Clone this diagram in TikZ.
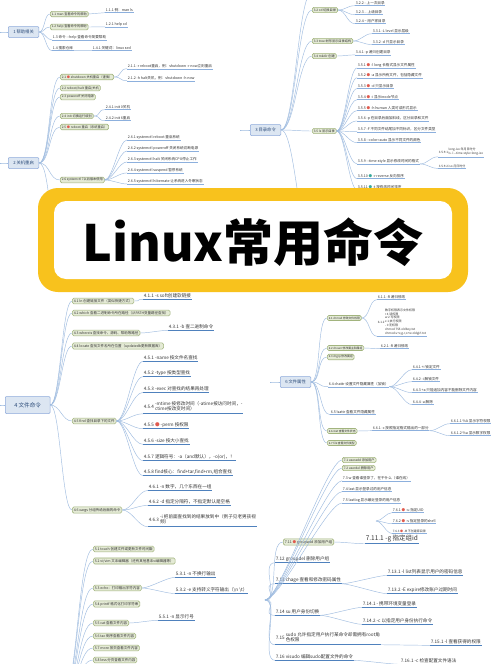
\documentclass[tikz,border=0pt]{standalone}
\usepackage{fontspec}
\setmainfont{Noto Sans CJK SC}[Ligatures=TeXOff]
\usetikzlibrary{positioning}

\definecolor{rootfill}{HTML}{DCE6F2}
\definecolor{rootdraw}{HTML}{8EAADB}
\definecolor{roottext}{HTML}{2A4A78}
\definecolor{subfill}{HTML}{E4EAD5}
\definecolor{subdraw}{HTML}{A2B47E}
\definecolor{brc}{HTML}{9FBCE0}
\definecolor{uline}{HTML}{8DB0DD}
\definecolor{ulinedark}{HTML}{4F81BD}
\definecolor{icored}{HTML}{E05A4E}
\definecolor{icoteal}{HTML}{35A89A}
\definecolor{bannery}{HTML}{F8C21D}

\newcommand\szroot{\fontsize{4.3}{5.2}\selectfont}
\newcommand\szrootl{\fontsize{5.6}{6.7}\selectfont}
\newcommand\szboxs{\fontsize{2.8}{3.4}\selectfont}
\newcommand\szbox{\fontsize{3.2}{3.8}\selectfont}
\newcommand\szboxl{\fontsize{3.5}{4.2}\selectfont}
\newcommand\szleaf{\fontsize{3.6}{4.3}\selectfont}
\newcommand\sztiny{\fontsize{3}{3.8}\selectfont}
\newcommand\szbig{\fontsize{4.6}{5.5}\selectfont}
\newcommand\szhuge{\fontsize{6.5}{7.8}\selectfont}
\newcommand\sztitle{\fontsize{50}{60}\selectfont}
\newcommand\ico[1]{{\color{#1}●}}

\begin{document}
\begin{tikzpicture}[x=1pt, y=-1pt,
  every node/.append style={text=black!80},
  root/.style={draw=rootdraw, fill=rootfill, text=roottext, rounded corners=1pt, line width=0.5pt,
    font=\szroot, inner xsep=5pt, minimum height=11pt, anchor=west},
  sub/.style={draw=subdraw, fill=subfill, rounded corners=1.5pt, line width=0.6pt,
    font=#1, inner xsep=1.5pt, inner ysep=1.2pt, anchor=west},
  sub/.default=\szbox,
  leaf/.style={font=\szleaf, inner xsep=0.6pt, inner ysep=0.8pt, anchor=west,
    append after command={(\tikzlastnode.south west) edge[draw=uline, line width=0.4pt] (\tikzlastnode.south east)}},
  bleaf/.style={font=\szbig, inner xsep=0.6pt, inner ysep=1pt, anchor=west,
    append after command={(\tikzlastnode.south west) edge[draw=ulinedark, line width=0.9pt] (\tikzlastnode.south east)}},
  br/.style={draw=brc, line width=0.45pt, out=0, in=180, distance=#1},
  br/.default=8pt]

\useasboundingbox (0,0) rectangle (500,664);
\fill[white] (0,0) rectangle (500,664);
\clip (0,0) rectangle (500,664);

%Free ends
\coordinate (in1) at (0,32);
\coordinate (in2) at (0,163);
\coordinate (in3) at (240,130);
\coordinate (in4) at (0,405);
\coordinate (in6) at (270,382);
\coordinate (h27) at (60,240);
\coordinate (h31) at (312,-8);
\coordinate (h36) at (312,240);
\coordinate (h5) at (62,700);
\coordinate (h7) at (265,600);
\coordinate (h76) at (376,521);

%Section 1
\node[root] (r1) at (8,32) {1 帮助相关};
\node[sub] (n11) at (50,14) {1.1 man 查看命令的帮助};
\node[leaf] (n111) at (105,10) {1.1.1 例：man ls};
\node[sub] (n12) at (50,27) {1.2 help 查看命令的帮助};
\node[leaf] (n121) at (105,24) {1.2.1 help cd};
\node[leaf] (n13) at (52,37) {1.3 命令 --help 查看命令简要帮助};
\node[leaf] (n14) at (52,48) {1.4 搜索仓库};
\node[leaf] (n141) at (92,48) {1.4.1 关键词：linux sed};

%Section 2
\node[root] (r2) at (8,163) {2 关机重启};
\node[sub] (n21) at (60,77) {2.1 \ico{icored} shutdown 关机重启（谨慎）};
\node[leaf] (n211) at (127,66) {2.1.1 -r reboot重启，例：shutdown -r now立刻重启};
\node[leaf] (n212) at (127,78) {2.1.2 -h halt关机，例：shutdown -h now};
\node[sub] (n22) at (60,88) {2.2 reboot/halt 重启/关机};
\node[sub] (n23) at (60,97) {2.3 poweroff 关闭电源};
\node[sub] (n24) at (60,116) {2.4 init 切换运行级别};
\node[leaf] (n241) at (105,107) {2.4.1 init 0关机};
\node[leaf] (n242) at (105,118) {2.4.2 init 6重启};
\node[sub] (n25) at (60,127) {2.5 \ico{icored} reboot 重启（系统重启）};
\node[sub] (n26) at (60,180) {2.6 systemctl 7以后版本使用};
\node[leaf] (n261) at (127,137) {2.6.1 systemctl reboot 重启系统};
\node[leaf] (n262) at (127,148) {2.6.2 systemctl poweroff 关闭系统切断电源};
\node[leaf] (n263) at (127,159) {2.6.3 systemctl halt 关闭系统CPU停止工作};
\node[leaf] (n264) at (127,170) {2.6.4 systemctl suspend 暂停系统};
\node[leaf] (n265) at (127,181) {2.6.5 systemctl hibernate 让系统进入冬眠状态};

%Section 3
\node[root] (r3) at (250,130) {3 目录命令};
\node[sub] (n32) at (312,10) {3.2 cd 切换目录};
\node[leaf] (n322) at (355,3) {3.2.2 - 上一次目录};
\node[leaf] (n323) at (355,12) {3.2.3 .. 上级目录};
\node[leaf] (n324) at (355,21) {3.2.4 \textasciitilde{} 用户家目录};
\node[sub] (n33) at (312,41) {3.3 tree 树形显示目录结构};
\node[leaf] (n331) at (372,31) {3.3.1 -L level 显示层级};
\node[leaf] (n332) at (372,42) {3.3.2 -d 只显示目录};
\node[sub] (n34) at (312,56) {3.4 mkdir 创建};
\node[leaf] (n341) at (355,52) {3.4.1 -p 递归创建目录};
\node[sub] (n35) at (312,131) {3.5 ls 显示目录};
\node[leaf] (n351) at (357,65) {3.5.1 \ico{icored} -l long 长格式显示文件属性};
\node[leaf] (n352) at (357,75) {3.5.2 \ico{icored} -a 显示所有文件，包括隐藏文件};
\node[leaf] (n353) at (357,86) {3.5.3 \ico{icored} -d 只显示目录};
\node[leaf] (n354) at (357,97) {3.5.4 \ico{icored} -i 显示inode节点};
\node[leaf] (n355) at (357,108) {3.5.5 \ico{icored} -h human 人类可读形式显示};
\node[leaf] (n356) at (357,118) {3.5.6 -p 在目录后面加斜线，区分目录和文件};
\node[leaf] (n357) at (357,129) {3.5.7 -F 不同文件结尾加不同标识，区分文件类型};
\node[leaf] (n358) at (357,140) {3.5.8 --color=auto 显示不同文件的颜色};
\node[leaf] (n359) at (357,161) {3.5.9 --time-style 显示修改时间的格式};
\node[leaf, font=\sztiny] (n3591) at (438,152) {3.5.9.1 \begin{tabular}[c]{@{}l@{}}long-iso 年月日时分\\ls -l --time-style=long-iso\end{tabular}};
\node[leaf, font=\sztiny] (n3592) at (438,166) {3.5.9.2 iso 月日时分};
\node[leaf] (n3510) at (357,176) {3.5.10 \ico{icoteal} -r reverse 反向排序};
\node[leaf] (n3511) at (357,187) {3.5.11 \ico{icoteal} -t 按修改时间排序};

%Section 4
\node[root, font=\szrootl, minimum height=17pt, inner xsep=9pt] (r4) at (5,405) {4 文件命令};
\node[sub=\szboxl] (n41) at (72,301) {4.1 ln 创建链接文件（类似快捷方式）};
\node[bleaf] (n411) at (143,296) {4.1.1 -s soft创建软链接};
\node[sub=\szboxl] (n42) at (72,313) {4.2 which 查看二进制命令所在路径（从PATH变量路径查找）};
\node[sub=\szboxl] (n43) at (72,333) {4.3 whereis 查找命令、源码、帮助等路径};
\node[bleaf] (n431) at (168,327) {4.3.1 -b 查二进制命令};
\node[sub=\szboxl] (n44) at (72,346) {4.4 locate 查找文件名所在位置（updatedb更新数据库）};
\node[sub=\szboxl] (n45) at (72,421) {4.5 find 查找目录下的文件};
\node[bleaf] (n451) at (143,358) {4.5.1 -name 按文件名查找};
\node[bleaf] (n452) at (143,373) {4.5.2 -type 按类型查找};
\node[bleaf] (n453) at (143,389) {4.5.3 -exec 对查找的结果再处理};
\node[bleaf] (n454) at (143,407) {4.5.4 \begin{tabular}[c]{@{}l@{}}-mtime 按修改时间（-atime按访问时间，-\\ctime按改变时间）\end{tabular}};
\node[bleaf] (n455) at (143,425) {4.5.5 \ico{icored} -perm 按权限};
\node[bleaf] (n456) at (143,441) {4.5.6 -size 按大小查找};
\node[bleaf] (n457) at (143,457) {4.5.7 逻辑符号：-a（and默认），-o(or)，！};
\node[bleaf] (n458) at (143,472) {4.5.8 find核心：find+tar,find+rm,组合查找};
\node[sub=\szboxl] (n46) at (72,510) {4.6 xargs 分组传给后面的命令};
\node[bleaf] (n461) at (148,487) {4.6.1 -n 数字，几个东西在一组};
\node[bleaf] (n462) at (148,502) {4.6.2 -d 指定分隔符，不指定默认是空格};
\node[bleaf] (n463) at (148,520) {4.6.3 \begin{tabular}[c]{@{}l@{}}-i 把前面查找到的结果放到{}中（例子见老男孩视\\频）\end{tabular}};

%Section 5
\node[sub=\szboxl] (n51) at (93,549) {5.1 touch 创建文件或更新文件时间戳};
\node[sub=\szboxl] (n52) at (93,561) {5.2 vi/vim 文本编辑器（还有其他基本vi编辑器等）};
\node[sub=\szboxl] (n53) at (93,588) {5.3 echo：打印输出字符内容};
\node[bleaf] (n531) at (175,574) {5.3.1 -n 不换行输出};
\node[bleaf] (n532) at (175,590) {5.3.2 -e 支持转义字符输出（\textbackslash n \textbackslash t）};
\node[sub=\szboxl] (n54) at (93,604) {5.4 printf 格式化打印字符串};
\node[sub=\szboxl] (n55) at (93,623) {5.5 cat 查看文件内容};
\node[bleaf] (n551) at (158,617) {5.5.1 -n 显示行号};
\node[sub=\szboxl] (n56) at (93,636) {5.6 tac 倒序查看文件内容};
\node[sub=\szboxl] (n57) at (93,648) {5.7 more 按页查看文件内容};
\node[sub=\szboxl] (n58) at (93,660) {5.8 less 分页查看文件内容};

%Section 6
\node[root] (r6) at (280,382) {6 文件属性};
\node[sub=\szboxs] (n61) at (327,318) {6.1 chmod 修改文件权限};
\node[leaf] (n611) at (377,297) {6.1.1 -R 递归修改};
\node[leaf, font=\sztiny] (n612) at (377,322) {6.1.2 \begin{tabular}[c]{@{}l@{}}数字权限表示文件权限\\r 4 读权限\\w 2 写权限\\x 1 执行权限\\- 0 无权限\\chmod 755 oldboy.txt\\chmod u+x,g-r,o+w oldgirl.txt\end{tabular}};
\node[sub=\szboxs] (n62) at (327,348) {6.2 chown 修改属主和属组};
\node[leaf] (n621) at (380,346) {6.2.1 -R 递归修改};
\node[sub=\szboxs] (n63) at (327,357) {6.3 chgrp 修改属组};
\node[leaf] (n64) at (328,384) {6.4 chattr 设置文件隐藏属性（加锁）};
\node[leaf] (n641) at (412,367) {6.4.1 +i 锁定文件};
\node[leaf] (n642) at (412,379) {6.4.2 -i 解锁文件};
\node[leaf] (n643) at (412,390) {6.4.3 +a 只能追加内容不能删除文件内容};
\node[leaf] (n644) at (412,402) {6.4.4 -a 解除};
\node[leaf] (n65) at (330,412) {6.5 lsattr 查看文件隐藏属性};
\node[sub=\szboxs] (n66) at (327,431) {6.6 stat 查看文件状态};
\node[leaf] (n661) at (372,428) {6.6.1 -c 按照指定格式输出的一部分};
\node[leaf] (n6611) at (450,421) {6.6.1.1 \%A 显示字符权限};
\node[leaf] (n6612) at (450,433) {6.6.1.2 \%a 显示数字权限};
\node[sub=\szboxs] (n67) at (327,443) {6.7 file 查看文件类型};

%Section 7
\node[sub] (n71) at (342,460) {7.1 useradd 添加用户};
\node[sub] (n72) at (342,468) {7.2 userdel 删除用户};
\node[leaf] (n73) at (342,478) {7.3 w 查看谁登录了，在干什么（谁在线）};
\node[leaf] (n74) at (342,489) {7.4 last 显示登录过的用户信息};
\node[leaf] (n75) at (342,500) {7.5 lastlog 显示最近登录的用户信息};
\node[leaf] (n761) at (392,510) {7.6.1 \ico{icored} -u 指定UID};
\node[leaf] (n762) at (392,521) {7.6.2 \ico{icored} -s 指定登录的shell};
\node[leaf, font=\sztiny] (n763) at (392,531) {7.6.3 \ico{icored} -M 不创建家目录};
\node[sub=\szleaf] (n711) at (283,542) {7.11 \ico{icored} groupadd 添加用户组};
\node[bleaf, font=\szhuge] (n7111) at (365,539) {7.11.1 -g 指定组id};
\node[bleaf] (n712) at (275,559) {7.12 groupdel 删除用户组};
\node[bleaf] (n713) at (275,580) {7.13 chage 查看和修改密码属性};
\node[bleaf] (n7131) at (387,572) {7.13.1 -l list列表显示用户的密码信息};
\node[bleaf] (n7132) at (387,590) {7.13.2 -E expire修改账户过期时间};
\node[bleaf] (n714) at (275,612) {7.14 su 用户身份切换};
\node[bleaf] (n7141) at (362,604) {7.14.1 - 携带环境变量登录};
\node[bleaf] (n7142) at (362,621) {7.14.2 -c 以指定用户身份执行命令};
\node[bleaf] (n715) at (275,638) {7.15 \begin{tabular}[c]{@{}l@{}}sudo 允许指定用户执行某命令却需拥有root角\\色权限\end{tabular}};
\node[bleaf] (n7151) at (430,642) {7.15.1 -l 查看获得的权限};
\node[bleaf] (n716) at (275,657) {7.16 visudo 编辑sudo配置文件的命令};
\node[bleaf] (n7161) at (400,661) {7.16.1 -c 检查配置文件语法};

%Lines
\path[br] (in1) edge (r1.west) (in2) edge (r2.west) (in3) edge (r3.west) (in4) edge (r4.west) (in6) edge (r6.west);

\path[br=6pt] (r1.east) edge (n11.west) edge (n12.west) edge (n13.south west) edge (n14.south west);
\path[br] (n11.east) edge (n111.south west);
\path[br] (n12.east) edge (n121.south west);
\path[br] (n14.south east) edge (n141.south west);

\path[br=11pt] (r2.east) edge (n21.west) edge (n22.west) edge (n23.west) edge (n24.west) edge (n25.west) edge (n26.west) edge (h27);
\path[br] (n21.east) edge (n211.south west) edge (n212.south west);
\path[br] (n24.east) edge (n241.south west) edge (n242.south west);
\path[br] (n26.east) edge (n261.south west) edge (n262.south west) edge (n263.south west) edge (n264.south west) edge (n265.south west);

\path[br=14pt] (r3.east) edge (h31) edge (n32.west) edge (n33.west) edge (n34.west) edge (n35.west) edge (h36);
\path[br] (n32.east) edge (n322.south west) edge (n323.south west) edge (n324.south west);
\path[br] (n33.east) edge (n331.south west) edge (n332.south west);
\path[br] (n34.east) edge (n341.south west);
\path[br] (n35.east) edge (n351.south west) edge (n352.south west) edge (n353.south west) edge (n354.south west)
  edge (n355.south west) edge (n356.south west) edge (n357.south west) edge (n358.south west)
  edge (n359.south west) edge (n3510.south west) edge (n3511.south west);
\path[br] (n359.south east) edge (n3591.south west) edge (n3592.south west);

\path[br=10pt] (r4.east) edge (n41.west) edge (n42.west) edge (n43.west) edge (n44.west) edge (n45.west) edge (n46.west);
\path[br] (n41.east) edge (n411.south west);
\path[br] (n43.east) edge (n431.south west);
\path[br=10pt] (n45.east) edge (n451.south west) edge (n452.south west) edge (n453.south west) edge (n454.south west)
  edge (n455.south west) edge (n456.south west) edge (n457.south west) edge (n458.south west);
\path[br=10pt] (n46.east) edge (n461.south west) edge (n462.south west) edge (n463.south west);

\path[br=15pt] (h5) edge (n51.west) edge (n52.west) edge (n53.west) edge (n54.west) edge (n55.west) edge (n56.west) edge (n57.west) edge (n58.west);
\path[br] (n53.east) edge (n531.south west) edge (n532.south west);
\path[br] (n55.east) edge (n551.south west);

\path[br=10pt] (r6.east) edge (n61.west) edge (n62.west) edge (n63.west) edge (n64.south west) edge (n65.south west) edge (n66.west) edge (n67.west);
\path[br] (n61.east) edge (n611.south west) edge (n612.south west);
\path[br] (n62.east) edge (n621.south west);
\path[br] (n64.south east) edge (n641.south west) edge (n642.south west) edge (n643.south west) edge (n644.south west);
\path[br] (n66.east) edge (n661.south west);
\path[br] (n661.south east) edge (n6611.south west) edge (n6612.south west);

\path[br=15pt] (h7) edge (n71.west) edge (n72.west) edge (n73.south west) edge (n74.south west) edge (n75.south west)
  edge (n711.west) edge (n712.south west) edge (n713.south west) edge (n714.south west) edge (n715.south west) edge (n716.south west);
\path[br=6pt] (h76) edge (n761.south west) edge (n762.south west) edge (n763.south west);
\path[br] (n711.east) edge (n7111.south west);
\path[br] (n713.south east) edge (n7131.south west) edge (n7132.south west);
\path[br] (n714.south east) edge (n7141.south west) edge (n7142.south west);
\path[br] (n715.south east) edge (n7151.south west);
\path[br] (n716.south east) edge (n7161.south west);

%Banner
\node[fill=bannery, rounded corners=20pt, minimum width=430pt, minimum height=104pt] (frame) at (253,240) {};
\node[fill=white, rounded corners=12pt, minimum width=398pt, minimum height=78pt] (plate) at (253,240) {};
\node[font=\sztitle\bfseries, text=black] (title) at (253,242) {Linux常用命令};

\end{tikzpicture}
\end{document}
